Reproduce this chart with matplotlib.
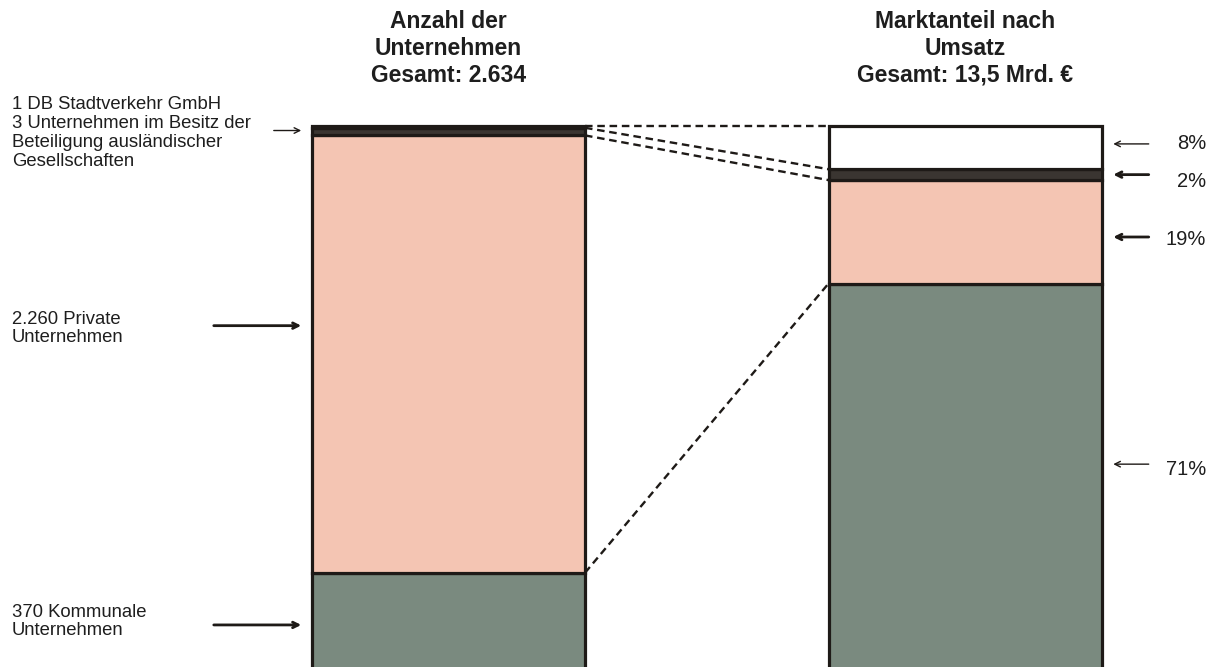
import matplotlib
matplotlib.use("Agg")
import matplotlib.pyplot as plt

plt.rcParams["font.family"] = ["Liberation Sans", "DejaVu Sans"]

# left bar: company counts (labels) and the shares as drawn in the picture
left_counts = [370, 2260, 3, 1]
left_names = ["Kommunale\nUnternehmen", "Private\nUnternehmen",
              "Unternehmen im Besitz der\nBeteiligung ausländischer\nGesellschaften",
              "DB Stadtverkehr GmbH"]
left_drawn = [17.9, 80.3, 1.4, 0.4]
# right bar: market share by revenue (%)
right_share = [71, 19, 2, 8]
titles = ["Anzahl der\nUnternehmen\nGesamt: 2.634",
          "Marktanteil nach\nUmsatz\nGesamt: 13,5 Mrd. €"]

COLORS = ["#7a8a7f", "#f4c5b3", "#3a3531", "#3a3531"]
RCOLORS = ["#7a8a7f", "#f4c5b3", "#3a3531", "#ffffff"]
EDGE = "#1e1a17"
TXT = "#1e1e1e"

fig = plt.figure(figsize=(12.17, 6.67), dpi=100)
ax = fig.add_axes([0, 0, 1, 1])
PX = 542 / 100  # pixels per percent
ax.set_xlim(0, 1217)
ax.set_ylim(0.6, 667 / PX)
ax.axis("off")

XL, XR, W = 448.5, 965, 273

def stack(x, vals, cols):
    bottom, tops = 0, []
    for v, c in zip(vals, cols):
        ax.bar(x, v, W, bottom=bottom, color=c, edgecolor=EDGE, linewidth=2.3)
        bottom += v
        tops.append(bottom)
    return tops

lt = stack(XL, left_drawn, COLORS)
rt = stack(XR, right_share, RCOLORS)

# dashed connectors between matching segment boundaries
x0, x1 = XL + W / 2, XR - W / 2
for a, b in [(lt[3], rt[3]), (lt[2], rt[2]), (lt[1], rt[1]), (lt[0], rt[0])]:
    ax.plot([x0, x1], [a, b], ls=(0, (3.2, 2)), color=EDGE, lw=1.7)

# titles
for x, t in zip([XL, XR], titles):
    ax.text(x, (667 - 10) / PX, t, ha="center", va="top", fontsize=16.5,
            fontweight="bold", linespacing=1.22, color=TXT)

# left labels and arrows
fs = 13.3
ax.text(12, (667 - 96) / PX,
        f"{left_counts[3]} {left_names[3]}\n{left_counts[2]} {left_names[2]}",
        ha="left", va="top", fontsize=fs, linespacing=1.15, color=TXT)
ax.annotate("", xy=(x0 - W - 8, 99.1), xytext=(x0 - W - 41, 99.1),
            arrowprops=dict(arrowstyle="->", color=EDGE, lw=1))
mid_p = left_drawn[0] + left_drawn[1] * 0.565
ax.text(12, mid_p - 0.5, f"2.260 {left_names[1]}", ha="left", va="center",
        fontsize=fs, linespacing=1.12, color=TXT)
ax.annotate("", xy=(x0 - W - 8, mid_p), xytext=(x0 - W - 101, mid_p),
            arrowprops=dict(arrowstyle="->", color=EDGE, lw=2))
mid_k = left_drawn[0] * 0.465
ax.text(12, mid_k + 0.6, f"{left_counts[0]} {left_names[0]}", ha="left",
        va="center", fontsize=fs, linespacing=1.12, color=TXT)
ax.annotate("", xy=(x0 - W - 8, mid_k), xytext=(x0 - W - 101, mid_k),
            arrowprops=dict(arrowstyle="->", color=EDGE, lw=2))

# right labels and arrows
bottoms = [0] + rt[:-1]
frac = [0.533, 0.45, 0.5, 0.58]
toff = [-0.9, -0.4, -1.3, 0.0]
for v, b, lw, f, o in zip(right_share, bottoms, [1, 2, 2, 1], frac, toff):
    y = b + v * f
    ax.annotate("", xy=(x1 + W + 9, y), xytext=(x1 + W + 50, y),
                arrowprops=dict(arrowstyle="->", color=EDGE, lw=lw))
    ax.text(1206, y + o, f"{v}%", ha="right", va="center", fontsize=14.5,
            color=TXT)

fig.savefig("out.png", dpi=100)
